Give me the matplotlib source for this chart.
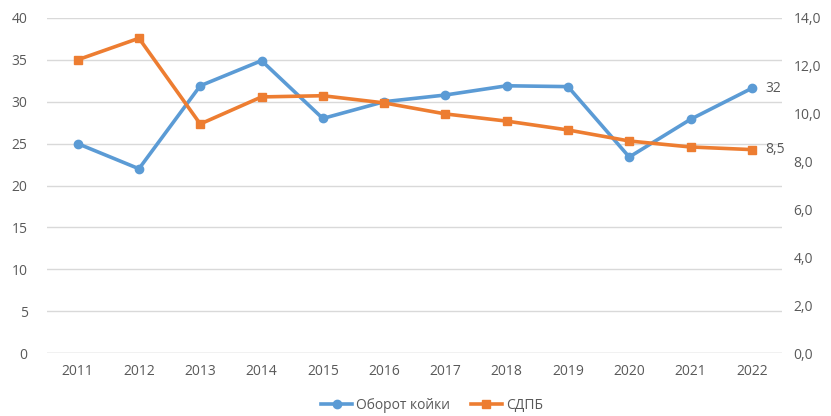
import matplotlib
matplotlib.use("Agg")
import matplotlib.pyplot as plt
from matplotlib.lines import Line2D

years = ["2011", "2012", "2013", "2014", "2015", "2016", "2017", "2018", "2019", "2020", "2021", "2022"]
turnover = [25, 22, 31.9, 34.9, 28, 30, 30.8, 31.9, 31.8, 23.4, 27.9, 31.6]
sdpb = [12.25, 13.15, 9.57, 10.7, 10.75, 10.45, 9.99, 9.69, 9.32, 8.86, 8.61, 8.5]
left_ticks = [0, 5, 10, 15, 20, 25, 30, 35, 40]
right_ticks = [0, 2, 4, 6, 8, 10, 12, 14]

blue = "#5B9BD5"
orange = "#ED7D31"
gray = "#595959"

plt.rcParams['font.family'] = ['Open Sans', 'DejaVu Sans']
fig = plt.figure(figsize=(8.31, 4.16), dpi=100)
ax = fig.add_axes([0.0566, 0.151, 0.885, 0.806])
ax2 = ax.twinx()

x = list(range(len(years)))
ax.plot(x, turnover, color=blue, lw=2.6, marker='o', ms=6, zorder=3)
ax2.plot(x, sdpb, color=orange, lw=2.6, marker='s', ms=6, zorder=3)

ax.set_ylim(0, 40)
ax2.set_ylim(0, 14)
ax.set_xlim(-0.5, len(years) - 0.5)
ax.set_yticks(left_ticks)
ax.set_yticklabels([str(t) for t in left_ticks])
ax2.set_yticks(right_ticks)
ax2.set_yticklabels([f"{t:.1f}".replace('.', ',') for t in right_ticks])
ax.set_xticks(x)
ax.set_xticklabels(years)

fs = 10
for a in (ax, ax2):
    for s in a.spines.values():
        s.set_visible(False)
    a.tick_params(length=0, colors=gray, labelsize=fs)
ax.tick_params(axis='y', pad=14)
ax2.tick_params(axis='y', pad=8)
ax.tick_params(axis='x', pad=8)
ax.grid(axis='y', color='#D9D9D9', lw=1)
ax.set_axisbelow(True)
ax.axhline(0, color='#D9D9D9', lw=1)

ax.annotate(f"{round(turnover[-1])}", (x[-1], turnover[-1]), xytext=(10, 0),
            textcoords='offset points', va='center', ha='left', color=gray, fontsize=fs)
ax2.annotate(f"{sdpb[-1]:.1f}".replace('.', ','), (x[-1], sdpb[-1]), xytext=(10, 0),
             textcoords='offset points', va='center', ha='left', color=gray, fontsize=fs)

handles = [Line2D([], [], color=blue, lw=2.6, marker='o', ms=6),
           Line2D([], [], color=orange, lw=2.6, marker='s', ms=6)]
fig.legend(handles, ["Оборот койки", "СДПБ"], loc='center', bbox_to_anchor=(0.52, 0.025),
           ncol=2, frameon=False, fontsize=fs, labelcolor=gray, handlelength=2.2,
           columnspacing=1.5, handletextpad=0.3)

fig.savefig("out.png", dpi=100)
